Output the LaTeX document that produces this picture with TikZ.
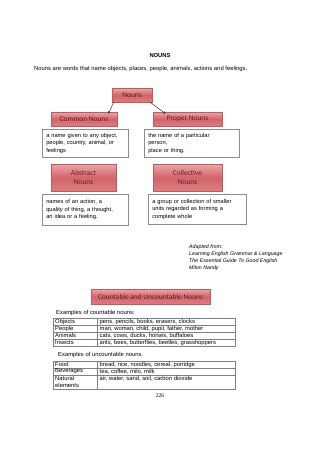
\documentclass[tikz,border=0pt]{standalone}
\usepackage{fontspec}
\setmainfont{Liberation Sans}
\newfontfamily\headfont{Carlito}
\newfontfamily\pagefont{Liberation Serif}
\usetikzlibrary{arrows.meta, calc}
\definecolor{boxtop}{HTML}{EBA8A8}
\definecolor{boxmid}{HTML}{D4626A}
\definecolor{boxbottom}{HTML}{DC7E80}
\definecolor{boxline}{HTML}{BF5A5C}
\definecolor{headtext}{HTML}{5C2424}
\definecolor{descline}{HTML}{8C8C8C}
\definecolor{tableline}{HTML}{808080}

\begin{document}
\begin{tikzpicture}[
    x=1pt, y=-1pt,
    every node/.style={font=\fontsize{5.85}{7.2}\selectfont, inner sep=0pt},
    headbox/.style={draw=boxline, line width=0.6pt, top color=boxtop, bottom color=boxbottom,
        middle color=boxmid, text=headtext, font=\headfont\fontsize{7.4}{8.4}\selectfont,
        align=center},
    descbox/.style={draw=descline, line width=0.6pt, fill=white, align=left,
        inner xsep=4pt, anchor=north west, font=\fontsize{5.7}{7.3}\selectfont},
    link/.style={-{Stealth[length=2.5pt,width=2.5pt]}, black!80, line width=0.5pt},
    grid/.style={tableline, line width=0.5pt}
]
    \useasboundingbox (0,0) rectangle (320,453);

    % Title and intro
    \node[font=\bfseries\fontsize{5.8}{7}\selectfont] (title) at (160,55.5) {NOUNS};
    \node[anchor=west] (intro) at (34,69) {Nouns are words that name objects, places, people, animals, actions and feelings.};

    % Tree of noun kinds
    \node[headbox, minimum width=40pt, minimum height=14pt] (nouns) at (132,95) {Nouns};
    \node[headbox, minimum width=66pt, minimum height=14pt] (common) at (84,119) {Common Nouns};
    \node[headbox, minimum width=69pt, minimum height=14pt] (proper) at (187.5,119) {Proper Nouns};
    \draw[link] ([xshift=2pt]nouns.south west) -- ([xshift=-9pt,yshift=-2pt]common.north east);
    \draw[link] ([xshift=-2pt]nouns.south east) -- ([xshift=-22pt,yshift=-2pt]proper.north);

    \node[descbox, text width=78pt, minimum height=28pt] (commondesc) at (42,129)
        {a name given to any object,\\ people, country, animal, or\\ feelings};
    \node[descbox, text width=87pt, minimum height=28pt] (properdesc) at (144,129)
        {the name of a particular\\ person,\\ place or thing.};

    \node[headbox, minimum width=65pt, minimum height=27pt] (abstract) at (83.5,177.5) {Abstract\\ Nouns};
    \node[headbox, minimum width=69pt, minimum height=27pt] (collective) at (187.5,177.5) {Collective\\ Nouns};

    \node[descbox, text width=78pt, minimum height=31pt] (abstractdesc) at (42,194)
        {names of an action, a\\ quality of thing, a thought,\\ an idea or a feeling.};
    \node[descbox, text width=90pt, minimum height=30pt] (collectivedesc) at (148,194)
        {a group or collection of smaller\\ units regarded as forming a\\ complete whole};

    % Source
    \node[anchor=west, align=left, font=\itshape\fontsize{5.3}{7}\selectfont] (source) at (189,257.5)
        {Adapted from:\\ Learning English Grammar \& Language\\ The Essential Guide To Good English\\ Milon Nandy};

    \node[headbox, minimum width=119pt, minimum height=15pt] (countable) at (150.5,296.5) {Countable and Uncountable Nouns};

    % Countable table
    \node[anchor=west] (counthead) at (56,313) {Examples of countable nouns:};
    \draw[grid] (53,318) rectangle (235,346);
    \foreach \y in {325,332,339} \draw[grid] (53,\y) -- (235,\y);
    \draw[grid] (97,318) -- (97,346);
    \foreach \y/\a/\b [count=\i] in {321.5/Objects/{pens,  pencils, books, erasers, clocks},
        328.5/People/{man,  woman, child, pupil, father, mother},
        335.5/Animals/{cats, cows, ducks,  horses, buffaloes},
        342.5/Insects/{ants, bees, butterflies, beetles, grasshoppers}} {
        \node[anchor=west] (ca\i) at (55,\y) {\a};
        \node[anchor=west] (cb\i) at (99.5,\y) {\b};
    }

    % Uncountable table
    \node[anchor=west] (unchead) at (58,355) {Examples of uncountable nouns.};
    \draw[grid] (53,361) rectangle (235,389);
    \foreach \y in {368,375} \draw[grid] (53,\y) -- (235,\y);
    \draw[grid] (97,361) -- (97,389);
    \foreach \y/\a/\b [count=\i] in {364.5/Food/{bread, rice, noodles, cereal, porridge},
        371.5/Beverages/{tea, coffee, milo, milk},
        378.5/Natural/{air, water, sand, soil, carbon dioxide}} {
        \node[anchor=west] (ua\i) at (55,\y) {\a};
        \node[anchor=west] (ub\i) at (99.5,\y) {\b};
    }
    \node[anchor=west] (ua4) at (55,385.5) {elements};

    % Page number
    \node[font=\pagefont\fontsize{5.6}{7}\selectfont] (page) at (160,396) {226};
\end{tikzpicture}
\end{document}
